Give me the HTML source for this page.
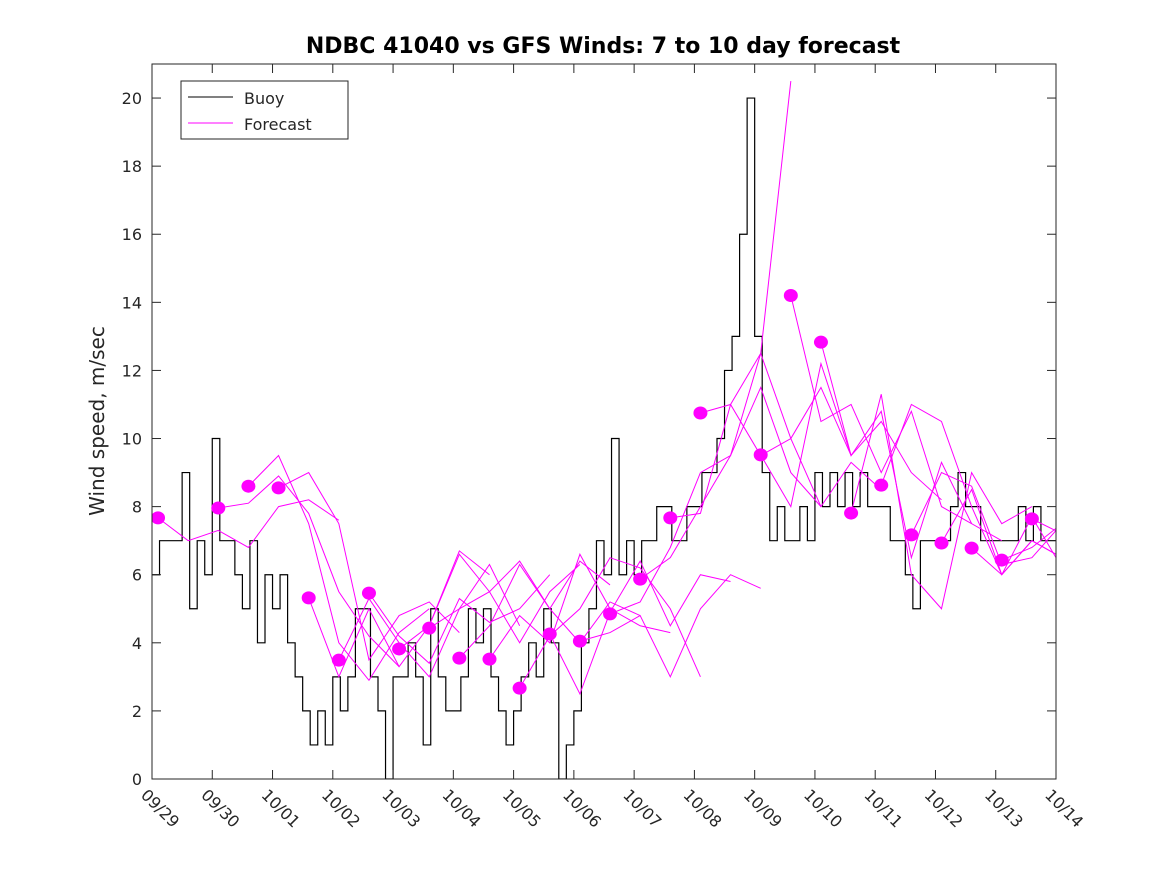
<!DOCTYPE html>
<html><head><meta charset="utf-8"><style>
body{margin:0;background:#fff}
svg text{font-family:"DejaVu Sans","Liberation Sans",sans-serif;fill:#262626}
</style></head><body>
<svg id="chart" width="1167" height="875" viewBox="0 0 1167 875" xmlns="http://www.w3.org/2000/svg">
<rect width="1167" height="875" fill="#fff"/>
<defs><clipPath id="pc"><rect x="152" y="64" width="904" height="715"/></clipPath></defs>
<text x="603" y="53" text-anchor="middle" font-size="22" font-weight="bold" fill="#000" style="fill:#000">NDBC 41040 vs GFS Winds: 7 to 10 day forecast</text>
<text transform="translate(104,421) rotate(-90)" text-anchor="middle" font-size="20">Wind speed, m/sec</text>
<g id="plot" clip-path="url(#pc)"></g>
<g id="axes"></g>
<g>
<rect x="181" y="81" width="167" height="58" fill="#fff" stroke="#262626" stroke-width="1"/>
<line x1="188" y1="97" x2="233" y2="97" stroke="#000"/>
<text x="244" y="104" font-size="16">Buoy</text>
<line x1="188" y1="123" x2="233" y2="123" stroke="#f0f"/>
<text x="244" y="130" font-size="16">Forecast</text>
</g>
</svg>
<script>
const dayLabels=["09/29","09/30","10/01","10/02","10/03","10/04","10/05","10/06","10/07","10/08","10/09","10/10","10/11","10/12","10/13","10/14"];
const yTicks=[0,2,4,6,8,10,12,14,16,18,20];
// buoy wind speed, 3-hourly from 09/29 00Z
const buoy=[6,7,7,7,9,5,7,6, 10,7,7,6,5,7,4,6, 5,6,4,3,2,1,2,1, 3,2,3,5,5,3,2,0, 3,3,4,3,1,5,3,2,
 2,3,5,4,5,3,2,1, 2,3,4,3,5,4,0,1, 2,4,5,7,6,10,6,7, 6,7,7,8,8,7,7,8, 8,9,9,10,12,13,16,20,
 13,9,7,8,7,7,8,7, 9,8,9,8,9,8,9,8, 8,8,7,7,6,5,7,7, 7,7,8,9,8,8,7,7, 7,7,7,8,7,8,7,7,7];
// forecast run start days and dot values
const runStart=[0.1,1.1,1.6,2.1,2.6,3.1,3.6,4.1,4.6,5.1,5.6,6.1,6.6,7.1,7.6,8.1,8.6,9.1,10.1,10.6,11.1,11.6,12.1,12.6,13.1,13.6,14.1,14.6];
const dotValues=[7.67,7.96,8.6,8.55,5.32,3.49,5.46,3.82,4.43,3.55,3.52,2.67,4.26,4.05,4.85,5.87,7.67,10.75,9.52,14.2,12.83,7.81,8.63,7.17,6.93,6.78,6.43,7.64];
// forecast values at 12h steps after each start
const runValues=[
[7.67,7.0,7.3,6.8,8.0,8.2,7.6],
[7.96,8.1,8.9,7.8,5.5,4.2,3.3],
[8.6,9.5,7.5,4.0,2.9,4.3,5.0],
[8.55,9.0,7.5,3.5,4.8,5.2,4.3],
[5.32,3.0,5.0,3.3,4.5,6.7,6.0],
[3.49,5.3,4.0,3.0,5.0,6.3,4.5],
[5.46,4.2,3.4,5.3,4.6,5.0,6.0],
[3.82,4.5,6.6,5.5,4.0,5.5,6.3],
[4.43,5.0,5.5,6.4,5.0,6.4,5.7],
[3.55,4.5,6.3,5.0,4.0,5.2,4.8],
[3.52,4.8,4.0,6.6,5.0,4.5,4.3],
[2.67,4.2,5.0,6.5,6.2,5.0,3.0],
[4.26,2.5,4.9,6.4,4.5,6.0,5.8],
[4.05,4.3,4.8,3.0,5.0,6.0,5.6],
[4.85,5.2,6.8,9.0,9.5,12.5,20.5],
[5.87,6.5,8.0,9.5,11.5,9.0,8.0],
[7.67,7.8,11.0,12.5,10.0,11.5,9.5],
[10.75,11.0,9.5,10.0,8.0,9.3,8.5],
[9.52,8.0,12.2,9.5,10.5,9.0,8.2],
[14.2,10.5,11.0,9.0,10.8,8.0,7.5],
[12.83,9.5,10.8,6.5,9.3,7.5,7.0],
[7.81,11.3,6.0,5.0,9.0,7.5,8.0],
[8.63,11.0,10.5,8.0,6.0,7.0,6.5],
[7.17,9.0,8.6,6.3,6.5,7.5,6.0],
[6.93,8.5,6.0,7.0,6.5,8.7,6.6],
[6.78,6.0,7.7,6.2,5.5,5.0,5.8],
[6.43,6.8,7.5,5.0,6.0,6.0,6.0],
[7.64,7.2,6.5,6.0,6.0,6.0,6.0]];
const X0=152,X1=1056,Y0=779,YTOP=64,NDAYS=15,YMAX=21;
const xs=d=>X0+(X1-X0)*d/NDAYS;
const ys=v=>Y0-(Y0-YTOP)*v/YMAX;
const NS="http://www.w3.org/2000/svg";
const plot=document.getElementById('plot'),axes=document.getElementById('axes');
function mk(t,a,p){const e=document.createElementNS(NS,t);for(const k in a)e.setAttribute(k,a[k]);p.appendChild(e);return e;}
let d="";
buoy.forEach((v,i)=>{const x=xs(i/8),y=ys(v);d+=(i===0?"M"+x+","+y:"V"+y+"H"+x);if(i<buoy.length-1)d+="H"+xs((i+1)/8);});
const bl=mk('path',{d:d,fill:"none",stroke:"#000","stroke-width":1.2},plot);


runValues.forEach((r,i)=>{
 const pts=r.map((v,j)=>xs(runStart[i]+j*0.5)+","+ys(v)).join(" ");
 const pl=mk('polyline',{points:pts,fill:"none",stroke:"#f0f","stroke-width":1},plot);
 
 
});
dotValues.forEach((v,i)=>{
 const c=mk('ellipse',{cx:xs(runStart[i]),cy:ys(v),rx:7,ry:6.5,fill:"#f0f"},plot);
 
 
});
const bx=mk('rect',{x:X0,y:YTOP,width:X1-X0,height:Y0-YTOP,fill:"none",stroke:"#262626","stroke-width":1},axes);


yTicks.forEach(v=>{
 const y=ys(v);
 mk('line',{x1:X0,y1:y,x2:X0+9,y2:y,stroke:"#262626"},axes);
 mk('line',{x1:X1,y1:y,x2:X1-9,y2:y,stroke:"#262626"},axes);
 const t=mk('text',{x:X0-10,y:y+6,"text-anchor":"end","font-size":16},axes);
 t.textContent=v;
 
 
});
dayLabels.forEach((l,i)=>{
 const x=xs(i);
 mk('line',{x1:x,y1:Y0,x2:x,y2:Y0-9,stroke:"#262626"},axes);
 mk('line',{x1:x,y1:YTOP,x2:x,y2:YTOP+9,stroke:"#262626"},axes);
 const t=mk('text',{transform:"translate("+(x-12)+",796) rotate(45)","font-size":16},axes);
 t.textContent=l;
 
 
});
</script>
</body></html>
